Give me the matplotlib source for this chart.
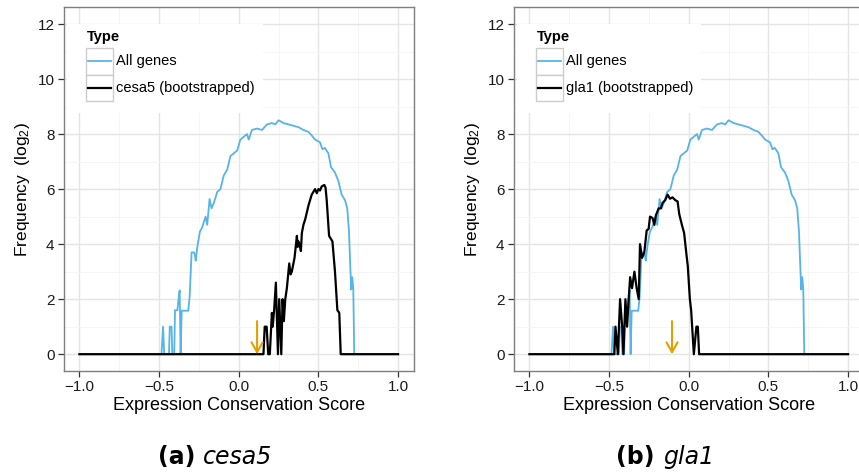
import matplotlib
matplotlib.use("Agg")
import matplotlib.pyplot as plt
from matplotlib.patches import Rectangle
from matplotlib.lines import Line2D

plt.rcParams['font.family'] = ['Liberation Sans', 'DejaVu Sans']
plt.rcParams['mathtext.fontset'] = 'custom'
plt.rcParams['mathtext.rm'] = 'Liberation Sans'
plt.rcParams['mathtext.it'] = 'Liberation Sans:italic'
plt.rcParams['mathtext.bf'] = 'Liberation Sans:bold'

# ---- data ----
all_x = [-1.0, -0.485, -0.475, -0.468, -0.438, -0.433, -0.422, -0.417, -0.405, -0.4,
         -0.385, -0.378, -0.371, -0.365, -0.358, -0.317, -0.308, -0.296, -0.281, -0.275,
         -0.27, -0.26, -0.244, -0.23, -0.208, -0.198, -0.183, -0.171, -0.156, -0.135,
         -0.115, -0.094, -0.073, -0.052, -0.031, -0.01, 0.01, 0.031, 0.052, 0.0625,
         0.083, 0.115, 0.146, 0.177, 0.208, 0.229, 0.25, 0.281, 0.3125, 0.344,
         0.375, 0.406, 0.4375, 0.458, 0.479, 0.51, 0.525, 0.54, 0.5625, 0.579,
         0.604, 0.625, 0.646, 0.667, 0.681, 0.692, 0.7, 0.706, 0.7125, 0.719,
         0.725, 1.0]
all_y = [0, 0, 1.0, 0, 0, 1.0, 1.0, 0, 0, 1.6,
         1.6, 2.0, 2.32, 0, 1.58, 1.58, 2.1, 3.7, 3.7, 3.6,
         3.4, 3.9, 4.45, 4.6, 5.0, 4.7, 5.64, 5.3, 5.5, 5.9,
         6.0, 6.5, 6.7, 7.2, 7.3, 7.4, 7.8, 7.9, 8.0, 7.8,
         8.15, 8.2, 8.15, 8.35, 8.4, 8.35, 8.5, 8.4, 8.35, 8.3,
         8.25, 8.15, 8.08, 7.95, 7.8, 7.7, 7.45, 7.5, 7.3, 6.8,
         6.6, 6.3, 5.8, 5.6, 5.3, 4.45, 3.2, 2.35, 2.8, 2.35,
         0, 0]

cesa5_x = [-1.0, 0.155, 0.163, 0.175, 0.185, 0.195, 0.208, 0.213, 0.222, 0.233,
           0.246, 0.254, 0.267, 0.275, 0.283, 0.292, 0.302, 0.317, 0.325, 0.333,
           0.35, 0.365, 0.37, 0.375, 0.385, 0.39, 0.396, 0.406, 0.417, 0.4375,
           0.458, 0.479, 0.49, 0.5, 0.51, 0.521, 0.5375, 0.545, 0.552, 0.567,
           0.588, 0.604, 0.619, 0.631, 0.64, 1.0]
cesa5_y = [0, 0, 1.0, 1.0, 0, 0, 1.5, 1.0, 1.6, 2.6,
           0, 2.0, 0, 2.0, 1.2, 2.0, 2.4, 3.3, 2.9, 3.0,
           3.5, 4.3, 3.9, 4.1, 3.9, 3.75, 4.4, 4.7, 4.9, 5.4,
           5.8, 6.0, 5.85, 6.0, 5.95, 6.1, 6.15, 6.05, 5.6, 4.3,
           4.1, 3.0, 1.6, 1.5, 0, 0]

gla1_x = [-1.0, -0.467, -0.46, -0.445, -0.431, -0.418, -0.41, -0.3975, -0.387, -0.377,
          -0.368, -0.356, -0.341, -0.327, -0.314, -0.306, -0.293, -0.279, -0.264, -0.252,
          -0.243, -0.227, -0.216, -0.206, -0.189, -0.175, -0.164, -0.1475, -0.133, -0.118,
          -0.102, -0.085, -0.07, -0.06, -0.043, -0.029, -0.014, -0.006, 0.007, 0.015,
          0.032, 0.048, 0.057, 0.065, 1.0]
gla1_y = [0, 0, 1.0, 0, 2.0, 1.0, 0, 2.0, 1.0, 2.0,
          2.8, 2.4, 3.0, 2.4, 2.0, 4.0, 3.5, 3.7, 4.5, 4.55,
          5.0, 4.95, 4.7, 5.05, 5.3, 5.3, 5.5, 5.6, 5.8, 5.65,
          5.7, 5.6, 5.55, 5.1, 4.7, 4.4, 3.6, 3.2, 2.0, 1.6,
          0, 1.0, 1.0, 0, 0]

gene_names = ["cesa5", "gla1"]
panel_tags = ["(a)", "(b)"]
gene_scores = [0.115, -0.105]   # orange arrow positions
arrow_top = 1.2
legend_title = "Type"
all_label = "All genes"
x_ticks = [-1.0, -0.5, 0.0, 0.5, 1.0]
y_ticks = [0, 2, 4, 6, 8, 10, 12]

BLUE = "#56B4E9"
ORANGE = "#E69F00"

W, H = 859, 475
fig = plt.figure(figsize=(W / 100, H / 100), dpi=100)

panels = [(63.5, cesa5_x, cesa5_y), (513.5, gla1_x, gla1_y)]
ax_w, top_px, bot_px = 350.5, 7.5, 370.7

for i, (left_px, gx, gy) in enumerate(panels):
    ax = fig.add_axes([left_px / W, 1 - bot_px / H, ax_w / W, (bot_px - top_px) / H])
    ax.set_xlim(-1.1, 1.1)
    ax.set_ylim(-0.6, 12.6)
    ax.set_xticks(x_ticks)
    ax.set_xticklabels([f"{v:.1f}".replace("-", "\u2212") for v in x_ticks])
    ax.set_yticks(y_ticks)
    ax.set_xticks([-0.75, -0.25, 0.25, 0.75], minor=True)
    ax.set_yticks([1, 3, 5, 7, 9, 11], minor=True)
    ax.grid(True, which='major', color='#E5E5E5', lw=1.0)
    ax.grid(True, which='minor', color='#F5F5F5', lw=0.7)
    ax.set_axisbelow(True)
    ax.tick_params(which='minor', length=0)
    ax.tick_params(which='major', length=4, width=0.9, color='#333333',
                   labelsize=11, labelcolor='#1a1a1a', pad=2.5)
    for s in ax.spines.values():
        s.set_color('#7F7F7F')
        s.set_linewidth(1.0)

    ax.plot(all_x, all_y, color=BLUE, lw=1.3, zorder=3)
    ax.plot(gx, gy, color='black', lw=1.6, zorder=4)

    ax.annotate("", xy=(gene_scores[i], 0), xytext=(gene_scores[i], arrow_top),
                arrowprops=dict(arrowstyle='->,head_length=0.7,head_width=0.4',
                                color=ORANGE, lw=1.5, shrinkA=0, shrinkB=0,
                                mutation_scale=10), zorder=5)

    ax.set_xlabel("Expression Conservation Score", fontsize=13, labelpad=2)
    ax.set_ylabel("Frequency  (log$_\\mathrm{2}$)", fontsize=12.5, labelpad=4)

    # legend (ggplot-style, drawn in axes-pixel offsets)
    def ax_frac(dx, dy):
        return (dx / ax_w, 1 - dy / (bot_px - top_px))
    labels = [all_label, f"{gene_names[i]} (bootstrapped)"]
    colors = [BLUE, 'black']
    bg = Rectangle(ax_frac(3.5, 100), 0.5, 0.2, transform=ax.transAxes,
                   facecolor='white', edgecolor='none', zorder=6)
    ax.add_patch(bg)
    ax.text(*ax_frac(23, 29.5), legend_title, transform=ax.transAxes,
            fontsize=10.5, fontweight='bold', va='center', ha='left', zorder=7)
    texts = []
    for k in range(2):
        y0 = 40.5 + 26.7 * k
        kx, ky = ax_frac(22.5, y0 + 26.7)
        ax.add_patch(Rectangle((kx, ky), 26.7 / ax_w, 26.7 / (bot_px - top_px),
                               transform=ax.transAxes, facecolor='white',
                               edgecolor='#CCCCCC', lw=1.0, zorder=7))
        lx0, ly = ax_frac(24.5, y0 + 13.35)
        lx1, _ = ax_frac(47.2, y0 + 13.35)
        ax.add_line(Line2D([lx0, lx1], [ly, ly], transform=ax.transAxes,
                           color=colors[k], lw=1.3 if k == 0 else 1.6, zorder=8))
        t = ax.text(*ax_frac(52.5, y0 + 13.35), labels[k], transform=ax.transAxes,
                    fontsize=10.5, va='center', ha='left', zorder=8)
        texts.append(t)
    fig.canvas.draw()
    r = fig.canvas.get_renderer()
    right = max(t.get_window_extent(r).x1 for t in texts)
    ax_bb = ax.get_window_extent(r)
    bx0 = bg.get_x()
    bx1 = (right + 8 - ax_bb.x0) / ax_bb.width
    by0 = ax_frac(0, 106)[1]
    by1 = ax_frac(0, 17)[1]
    bg.set_bounds(bx0, by0, bx1 - bx0, by1 - by0)

    # caption: bold tag + italic gene name, centred under the panel
    cx = left_px + 151.5
    cy = 1 - 457 / H
    t1 = fig.text(0, cy, panel_tags[i] + " ", fontsize=17, family='DejaVu Sans',
                  fontweight='bold', va='center', ha='left')
    t2 = fig.text(0, cy, gene_names[i], fontsize=17, family='DejaVu Sans',
                  fontstyle='italic', va='center', ha='left')
    fig.canvas.draw()
    w1 = t1.get_window_extent(r).width
    w2 = t2.get_window_extent(r).width
    x0 = cx - (w1 + w2) / 2
    t1.set_x(x0 / W)
    t2.set_x((x0 + w1) / W)

fig.savefig("out.png", dpi=100, facecolor='white')
